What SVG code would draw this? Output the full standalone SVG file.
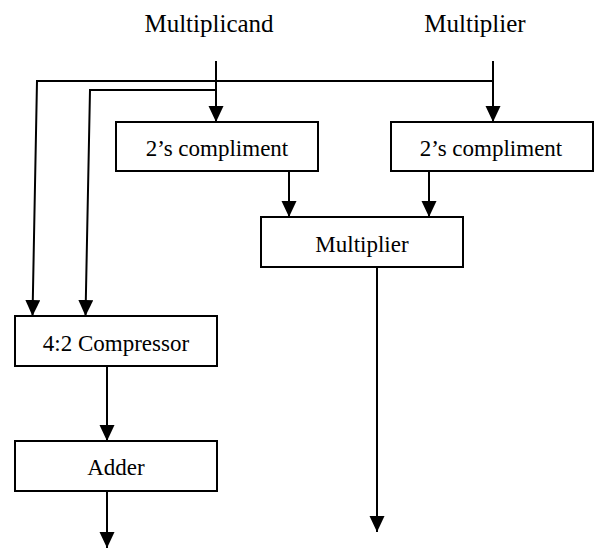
<svg xmlns="http://www.w3.org/2000/svg" width="595" height="550" viewBox="0 0 595 550">
<style>
.box{fill:#fff;stroke:#000;stroke-width:2}
.t{font-family:"Liberation Serif","Times New Roman",serif;font-size:23px;fill:#000;text-anchor:middle}
.top{font-size:25px}
.ln{fill:none;stroke:#000;stroke-width:2}
</style>
<defs>
<marker id="ah" markerUnits="userSpaceOnUse" markerWidth="16" markerHeight="16" refX="16" refY="7.5" orient="auto">
<path d="M0,0 L16,7.5 L0,15 Z" fill="#000"/>
</marker>
</defs>
<rect width="595" height="550" fill="#fff"/>
<g id="label-multiplicand"><text class="t top" x="209" y="32">Multiplicand</text></g>
<g id="label-multiplier"><text class="t top" x="475" y="32">Multiplier</text></g>
<g id="connectors">
<path class="ln" d="M216,61 V122" marker-end="url(#ah)"/>
<path class="ln" d="M493,61 V122" marker-end="url(#ah)"/>
<path class="ln" d="M493,81 H37 L32.5,316" marker-end="url(#ah)"/>
<path class="ln" d="M216,90 H90 L85.5,316" marker-end="url(#ah)"/>
<path class="ln" d="M289,171 V217" marker-end="url(#ah)"/>
<path class="ln" d="M429,171 V217" marker-end="url(#ah)"/>
<path class="ln" d="M377,267 V532" marker-end="url(#ah)"/>
<path class="ln" d="M107,366 V441" marker-end="url(#ah)"/>
<path class="ln" d="M107,491 V548" marker-end="url(#ah)"/>
</g>
<g id="comp1"><rect class="box" x="116" y="122" width="202" height="49"/><text class="t" x="217" y="156">2’s compliment</text></g>
<g id="comp2"><rect class="box" x="391" y="122" width="202" height="49"/><text class="t" x="491" y="156">2’s compliment</text></g>
<g id="multiplier"><rect class="box" x="261" y="217" width="202" height="50"/><text class="t" x="362" y="252">Multiplier</text></g>
<g id="compressor"><rect class="box" x="15" y="316" width="202" height="50"/><text class="t" x="116" y="351">4:2 Compressor</text></g>
<g id="adder"><rect class="box" x="15" y="441" width="202" height="50"/><text class="t" x="116" y="475">Adder</text></g>
</svg>
